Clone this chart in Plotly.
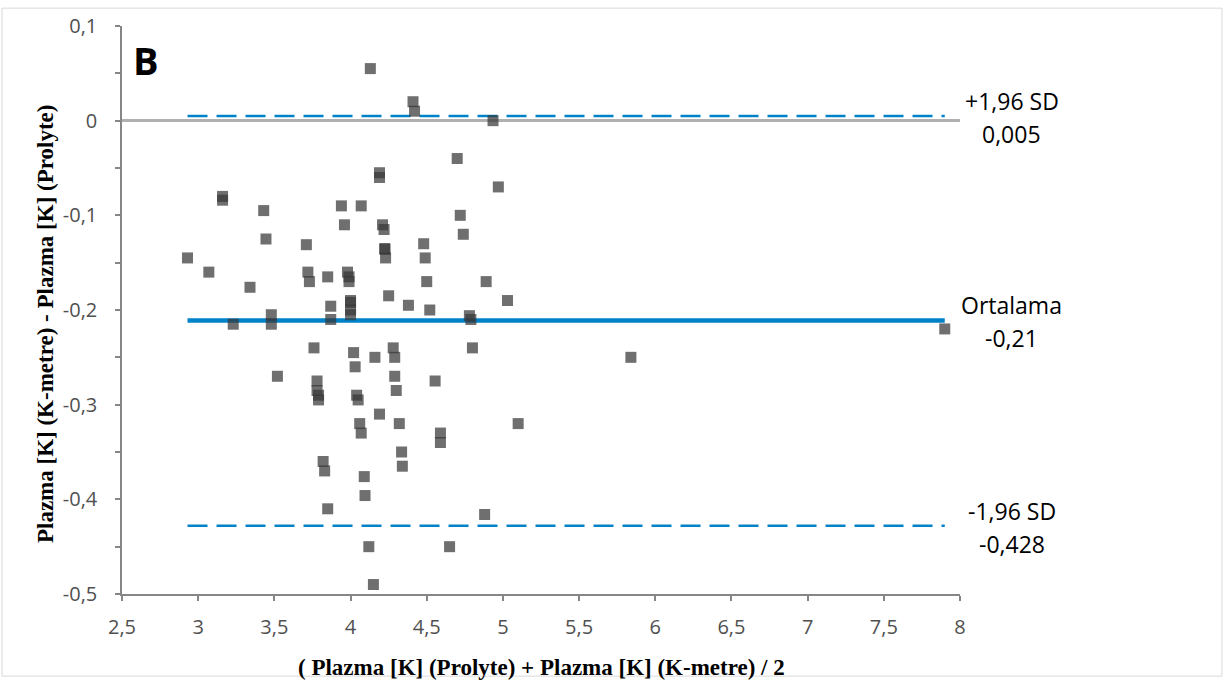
import plotly.graph_objects as go

# Bland-Altman data
mean_vals = [2.93, 3.07, 3.16, 3.16, 3.23, 3.34, 3.43, 3.445, 3.48, 3.48,
             3.52, 3.71, 3.72, 3.73, 3.76, 3.78, 3.78, 3.79, 3.79, 3.82,
             3.83, 3.85, 3.85, 3.87, 3.87, 3.94, 3.96, 3.98, 3.99, 3.99,
             4.0, 4.0, 4.0, 4.0, 4.02, 4.03, 4.04, 4.05, 4.06, 4.07,
             4.07, 4.09, 4.095, 4.12, 4.13, 4.15, 4.16, 4.19, 4.19, 4.19,
             4.21, 4.22, 4.225, 4.225, 4.23, 4.25, 4.28, 4.29, 4.29, 4.30,
             4.32, 4.335, 4.34, 4.38, 4.41, 4.42, 4.48, 4.49, 4.50, 4.52,
             4.555, 4.59, 4.59, 4.65, 4.70, 4.72, 4.74, 4.78, 4.79, 4.80,
             4.88, 4.89, 4.935, 4.97, 5.03, 5.10, 5.84, 7.90]
diff_vals = [-0.145, -0.16, -0.08, -0.084, -0.215, -0.176, -0.095, -0.125, -0.205, -0.215,
             -0.27, -0.131, -0.16, -0.17, -0.24, -0.275, -0.285, -0.29, -0.295, -0.36,
             -0.37, -0.165, -0.41, -0.196, -0.21, -0.09, -0.11, -0.16, -0.165, -0.17,
             -0.19, -0.192, -0.2, -0.205, -0.245, -0.26, -0.29, -0.295, -0.32, -0.33,
             -0.09, -0.376, -0.396, -0.45, 0.055, -0.49, -0.25, -0.055, -0.06, -0.31,
             -0.11, -0.115, -0.135, -0.136, -0.145, -0.185, -0.24, -0.25, -0.27, -0.285,
             -0.32, -0.35, -0.365, -0.195, 0.02, 0.01, -0.13, -0.145, -0.17, -0.20,
             -0.275, -0.33, -0.34, -0.45, -0.04, -0.10, -0.12, -0.206, -0.21, -0.24,
             -0.416, -0.17, 0.0, -0.07, -0.19, -0.32, -0.25, -0.22]

upper_loa = 0.005
mean_diff = -0.211
lower_loa = -0.428
upper_label = ["+1,96 SD", "0,005"]
mean_label = ["Ortalama", "-0,21"]
lower_label = ["-1,96 SD", "-0,428"]

x_tickvals = [2.5, 3, 3.5, 4, 4.5, 5, 5.5, 6, 6.5, 7, 7.5, 8]
x_ticktext = ["2,5", "3", "3,5", "4", "4,5", "5", "5,5", "6", "6,5", "7", "7,5", "8"]
y_tickvals = [0.1, 0, -0.1, -0.2, -0.3, -0.4, -0.5]
y_ticktext = ["0,1", "0", "-0,1", "-0,2", "-0,3", "-0,4", "-0,5"]

BLUE = "#0082C8"
AX = "#868686"
LBL = "#505050"
SANS = "Open Sans"
SERIF = "Liberation Serif"

x_ends = [min(mean_vals), max(mean_vals)]

fig = go.Figure()
fig.add_trace(go.Scatter(x=x_ends, y=[upper_loa, upper_loa], mode="lines",
                         line=dict(color=BLUE, width=2.5, dash="20px,9px"),
                         hoverinfo="skip", showlegend=False))
fig.add_trace(go.Scatter(x=x_ends, y=[lower_loa, lower_loa], mode="lines",
                         line=dict(color=BLUE, width=2.5, dash="20px,9px"),
                         hoverinfo="skip", showlegend=False))
fig.add_trace(go.Scatter(x=x_ends, y=[mean_diff, mean_diff], mode="lines",
                         line=dict(color=BLUE, width=4.5),
                         hoverinfo="skip", showlegend=False))
fig.add_trace(go.Scatter(x=mean_vals, y=diff_vals, mode="markers",
                         marker=dict(symbol="square", size=11, color="rgb(56,56,56)",
                                     opacity=0.72, line=dict(width=0)),
                         showlegend=False))

ann_font = dict(family=SANS, size=23, color="#000000")
lab_x = 1.062
for val, lab in [(upper_loa, upper_label), (mean_diff, mean_label), (lower_loa, lower_label)]:
    fig.add_annotation(xref="paper", yref="y", x=lab_x, y=val, text=lab[0],
                       showarrow=False, xanchor="center", yanchor="middle",
                       yshift=15, font=ann_font)
    fig.add_annotation(xref="paper", yref="y", x=lab_x, y=val, text=lab[1],
                       showarrow=False, xanchor="center", yanchor="middle",
                       yshift=-18, font=ann_font)

fig.add_annotation(xref="paper", yref="paper", x=0.0286, y=0.941, text="<b>B</b>",
                   showarrow=False, xanchor="center", yanchor="middle",
                   font=dict(family=SANS, size=38, color="#000000"))

fig.add_annotation(xref="paper", yref="paper", x=0.501, y=-0.129,
                   text="<b>( Plazma [K] (Prolyte) + Plazma [K] (K-metre) / 2</b>",
                   showarrow=False, xanchor="center", yanchor="middle",
                   font=dict(family=SERIF, size=23, color="#000000"))
fig.add_annotation(xref="paper", yref="paper", x=-0.0919, y=0.477,
                   text="<b>Plazma [K] (K-metre) - Plazma [K] (Prolyte)</b>",
                   showarrow=False, xanchor="center", yanchor="middle", textangle=-90,
                   font=dict(family=SERIF, size=23, color="#000000"))

fig.add_shape(type="rect", xref="paper", yref="paper",
              x0=-0.1432, x1=1.3126, y0=-0.1446, y1=1.0314,
              line=dict(color="#d9d9d9", width=1), fillcolor="rgba(0,0,0,0)", layer="below")

fig.update_layout(
    width=1225, height=680,
    margin=dict(l=122, r=265, t=20, b=86),
    paper_bgcolor="white", plot_bgcolor="white",
    showlegend=False,
    xaxis=dict(range=[2.5, 8], tickvals=x_tickvals, ticktext=x_ticktext,
               showline=True, linecolor=AX, linewidth=1.5, ticks="outside",
               ticklen=5, tickwidth=1.5, tickcolor=AX, showgrid=False, zeroline=False,
               tickfont=dict(family=SANS, size=20, color=LBL), ticklabelstandoff=9),
    yaxis=dict(range=[-0.5, 0.1], tickvals=y_tickvals, ticktext=y_ticktext,
               showline=True, linecolor=AX, linewidth=1.5, ticks="outside",
               ticklen=5, tickwidth=1.5, tickcolor=AX, showgrid=False,
               zeroline=True, zerolinecolor="#b0b0b0", zerolinewidth=2.5,
               minor=dict(dtick=0.05, tick0=0, ticks="outside", ticklen=5,
                          tickwidth=1.5, tickcolor=AX, showgrid=False),
               tickfont=dict(family=SANS, size=20, color=LBL), ticklabelstandoff=14),
)

fig.write_html("out.html", config={"displayModeBar": False},
               post_script="document.body.style.margin='0';document.body.style.overflow='hidden';")
